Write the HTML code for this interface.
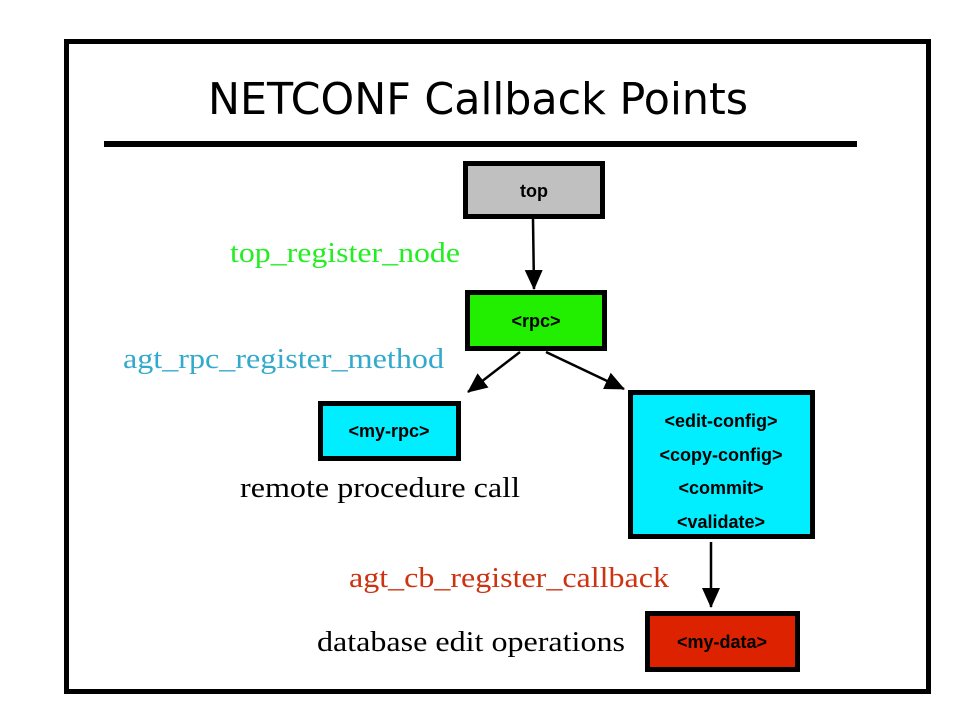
<!DOCTYPE html>
<html><head><meta charset="utf-8"><style>html,body{margin:0;padding:0;background:#fff}</style></head>
<body>
<svg width="960" height="720" xmlns="http://www.w3.org/2000/svg">
<defs>
<marker id="b" markerWidth="20" markerHeight="18" refX="19" refY="9" orient="auto" markerUnits="userSpaceOnUse"><path d="M0,0 L20,9 L0,18 z" fill="#000"/></marker></defs>
<rect x="66.5" y="41.5" width="862" height="650" fill="none" stroke="#000" stroke-width="5"/>
<text x="478" y="114" text-anchor="middle" font-family="DejaVu Sans, sans-serif" font-size="44" textLength="540" lengthAdjust="spacingAndGlyphs">NETCONF Callback Points</text>
<rect x="104" y="141" width="753" height="6" fill="#000"/>
<g stroke="#000" stroke-width="5">
<rect x="465.5" y="163.5" width="137" height="53" fill="#c0c0c0"/>
<rect x="467.5" y="292.5" width="137" height="56" fill="#22ee00"/>
<rect x="320.5" y="403.5" width="138" height="55" fill="#00eeff"/>
<rect x="630.5" y="392.5" width="182" height="144" fill="#00eeff"/>
<rect x="647.5" y="613.5" width="150" height="56" fill="#dd2200"/>
</g>
<g font-family="Liberation Sans, sans-serif" font-weight="bold" font-size="18" text-anchor="middle" fill="#000">
<text x="534" y="197">top</text>
<text x="536" y="327">&lt;rpc&gt;</text>
<text x="389" y="437">&lt;my-rpc&gt;</text>
<text x="721" y="427">&lt;edit-config&gt;</text>
<text x="721" y="461">&lt;copy-config&gt;</text>
<text x="721" y="494">&lt;commit&gt;</text>
<text x="721" y="528">&lt;validate&gt;</text>
<text x="722" y="648">&lt;my-data&gt;</text>
</g>
<g stroke="#000" stroke-width="2.5" fill="none">
<line x1="533" y1="219" x2="534" y2="289" marker-end="url(#b)"/>
<line x1="520" y1="352" x2="468" y2="392" marker-end="url(#b)"/>
<line x1="546" y1="352" x2="624" y2="389" marker-end="url(#b)"/>
<line x1="711" y1="542" x2="711" y2="607" marker-end="url(#b)"/>
</g>
<g font-family="Liberation Serif, serif" font-size="28">
<text x="230" y="262" fill="#22ee22" textLength="230" lengthAdjust="spacingAndGlyphs">top_register_node</text>
<text x="123" y="368" fill="#33aacc" textLength="321" lengthAdjust="spacingAndGlyphs">agt_rpc_register_method</text>
<text x="240" y="497" fill="#000" textLength="280" lengthAdjust="spacingAndGlyphs">remote procedure call</text>
<text x="349" y="587" fill="#cc3311" textLength="320" lengthAdjust="spacingAndGlyphs">agt_cb_register_callback</text>
<text x="317" y="651" fill="#000" textLength="308" lengthAdjust="spacingAndGlyphs">database edit operations</text>
</g>
</svg>
</body></html>
